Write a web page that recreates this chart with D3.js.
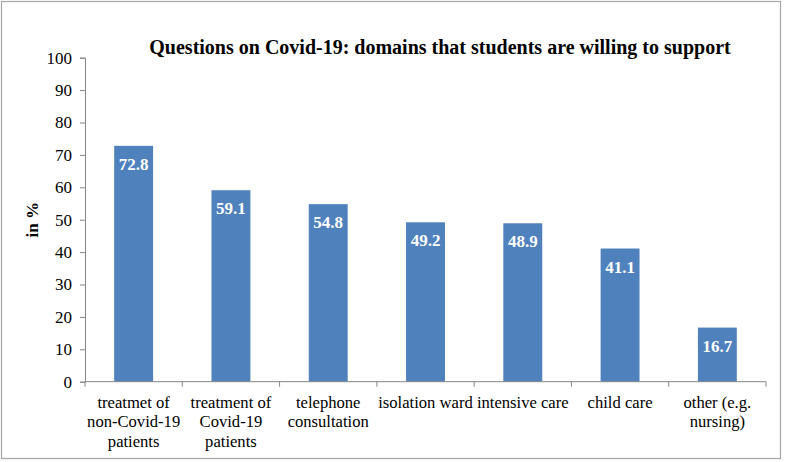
<!DOCTYPE html>
<html><head><meta charset="utf-8">
<script src="https://cdn.jsdelivr.net/npm/d3@7"></script>
<style>body{margin:0;background:#fff}svg{display:block}
svg text{font-family:"Liberation Serif","Times New Roman",Tinos,"DejaVu Serif",serif;}
</style>
</head><body><svg id="c" width="785" height="462"></svg>
<script>
const categories = [
  ["treatmet of","non-Covid-19","patients"],
  ["treatment of","Covid-19","patients"],
  ["telephone","consultation"],
  ["isolation ward"],
  ["intensive care"],
  ["child care"],
  ["other (e.g.","nursing)"]
];
const values = [72.8, 59.1, 54.8, 49.2, 48.9, 41.1, 16.7];
const yTicks = [0,10,20,30,40,50,60,70,80,90,100];
const title = "Questions on Covid-19: domains that students are willing to support";
const yLabel = "in %";

(function(){
const svg = d3.select("#c");
svg.append("rect").attr("x",1.5).attr("y",1.5).attr("width",779).attr("height",457)
  .attr("fill","#fff").attr("stroke","#a6a6a6").attr("stroke-width",1.2);

const pl=85, pr=766, pt=57.7, pb=381.7;
const x = d3.scaleBand().domain(d3.range(categories.length)).range([pl,pr]).paddingInner(0).paddingOuter(0);
const y = d3.scaleLinear().domain([0,100]).range([pb,pt]);
const bw = x.bandwidth()*0.4;
const axisColor="#868686";

svg.selectAll("rect.bar").data(values).join("rect").attr("class","bar")
  .attr("x",(d,i)=>x(i)+x.bandwidth()/2-bw/2).attr("width",bw)
  .attr("y",d=>y(d)).attr("height",d=>y(0)-y(d)).attr("fill","#4F81BD");

svg.selectAll("text.val").data(values).join("text").attr("class","val")
  .attr("x",(d,i)=>x(i)+x.bandwidth()/2).attr("y",d=>y(d)+24)
  .attr("text-anchor","middle").attr("fill","#fff")
  .attr("font-weight","bold").attr("font-size",17).text(d=>d.toFixed(1));

const ya = svg.append("g").attr("transform",`translate(${pl},0)`)
  .call(d3.axisLeft(y).tickValues(yTicks).tickSize(5).tickPadding(8));
ya.attr("font-family",null);
ya.select(".domain").attr("stroke",axisColor);
ya.selectAll(".tick line").attr("stroke",axisColor);
ya.selectAll("text").attr("font-size",17).attr("fill","#000");

const xa = svg.append("g").attr("transform",`translate(0,${pb})`);
xa.append("line").attr("x1",pl).attr("x2",pr).attr("stroke",axisColor);
const bounds = d3.range(categories.length+1).map(i=> i<categories.length ? x(i) : pr);
xa.selectAll("line.t").data(bounds).join("line").attr("class","t")
  .attr("x1",d=>d).attr("x2",d=>d).attr("y1",0).attr("y2",5).attr("stroke",axisColor);

categories.forEach((lines,i)=>{
  const t = svg.append("text").attr("text-anchor","middle")
    .attr("font-size",16.6).attr("fill","#000");
  lines.forEach((l,j)=>{
    t.append("tspan").attr("x",x(i)+x.bandwidth()/2).attr("y",pb+26+j*19.5).text(l);
  });
});

svg.append("text").attr("transform",`translate(38,${(pt+pb)/2}) rotate(-90)`)
  .attr("text-anchor","middle").attr("font-weight","bold")
  .attr("font-size",17).text(yLabel);

svg.append("text").attr("x",440).attr("y",54).attr("text-anchor","middle")
  .attr("font-weight","bold").attr("font-size",20).text(title);
})();
</script></body></html>
